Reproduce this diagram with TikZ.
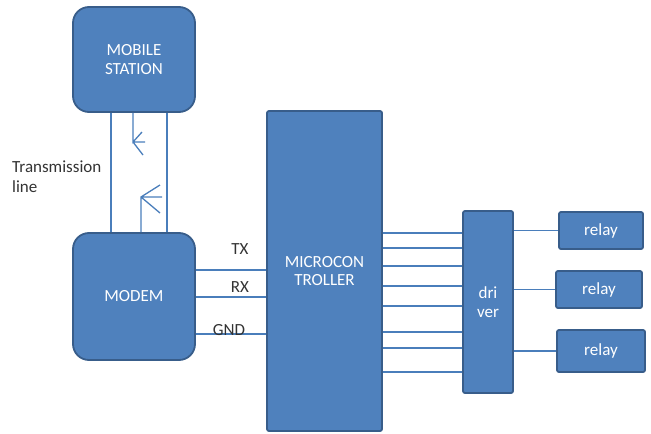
\documentclass[tikz,border=0pt]{standalone}
\usepackage{fontspec}
\setmainfont{Carlito}
\definecolor{boxblue}{HTML}{4F81BD}
\definecolor{edgeblue}{HTML}{385D8A}
\definecolor{wireblue}{HTML}{4A7EBB}
\definecolor{labelgray}{HTML}{333333}

\tikzset{
  block/.style = {draw=edgeblue, fill=boxblue, line width=1.8pt, text=white,
                  align=center, inner sep=0pt, font=\fontsize{17}{18.5}\selectfont},
  roundblock/.style = {block, rounded corners=16pt},
  wire/.style = {draw=wireblue, line width=1.3pt},
  lbl/.style = {text=labelgray, font=\fontsize{17}{20}\selectfont, inner sep=0pt}
}

\begin{document}
\begin{tikzpicture}[x=1pt, y=-1pt]

\useasboundingbox (0,0) rectangle (651,434);

% blocks
\node[roundblock, minimum width=122pt, minimum height=105pt] (mobile) at (134,59.5) {MOBILE\\STATION};
\node[roundblock, minimum width=122pt, minimum height=127pt] (modem) at (134,296.5) {MODEM};
\node[block, rounded corners=2pt, minimum width=115pt, minimum height=320pt] (micro) at (324.5,271) {MICROCON\\TROLLER};
\node[block, rounded corners=2pt, minimum width=50pt, minimum height=182pt] (driver) at (488,302) {dri\\ver};
\node[block, rounded corners=2pt, minimum width=84pt, minimum height=37pt] (relayA) at (601,230.5) {relay};
\node[block, rounded corners=2pt, minimum width=86pt, minimum height=37pt] (relayB) at (599,289.5) {relay};
\node[block, rounded corners=2pt, minimum width=88pt, minimum height=42pt] (relayC) at (601,351) {relay};

% transmission line
\draw[wire] (mobile.south -| 111,0) -- (modem.north -| 111,0);
\draw[wire] (mobile.south -| 167,0) -- (modem.north -| 167,0);
\coordinate (upA) at (133,142);
\coordinate (upB) at (141,197);
\draw[wire] (mobile.south -| upA) -- (upA) -- (142,132) (upA) -- (145,142) (upA) -- (143,155);
\draw[wire] (modem.north -| upB) -- (upB) -- (160,185) (upB) -- (162,197) (upB) -- (160,213);
\node[lbl, anchor=base west, align=left] (tline) at (12,192) {Transmission\\line};

% modem to microcontroller
\draw[wire] (modem.east |- 0,270) -- (micro.west |- 0,270);
\draw[wire] (modem.east |- 0,297) -- (micro.west |- 0,297);
\draw[wire] (modem.east |- 0,334) -- (micro.west |- 0,334);
\node[lbl] (tx) at (240,249) {TX};
\node[lbl] (rx) at (240,287) {RX};
\node[lbl] (gnd) at (229,330) {GND};

% microcontroller to driver
\foreach \y in {233,248,266,286,306,332,348,372}
  \draw[wire] (micro.east |- 0,\y) -- (driver.west |- 0,\y);

% driver to relays
\draw[wire] (driver.east |- relayA.west) -- (relayA.west);
\draw[wire] (driver.east |- relayB.west) -- (relayB.west);
\draw[wire] (driver.east |- relayC.west) -- (relayC.west);

\end{tikzpicture}
\end{document}
